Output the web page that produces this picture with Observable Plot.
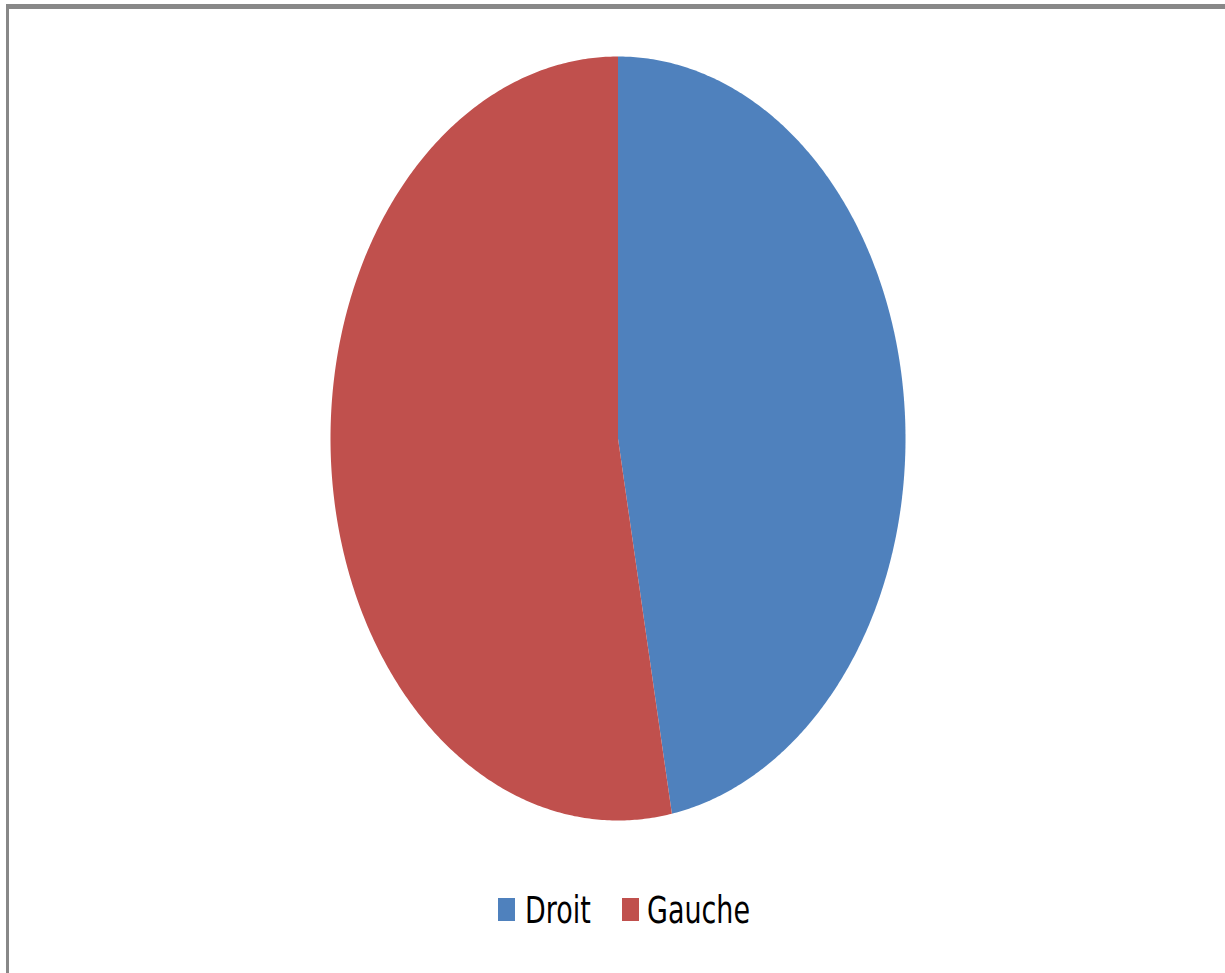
<!DOCTYPE html>
<html><head><meta charset="utf-8">
<script src="https://cdn.jsdelivr.net/npm/d3@7"></script>
<script src="https://cdn.jsdelivr.net/npm/@observablehq/plot@0.6"></script>
<style>
html,body{margin:0;padding:0;background:#fff;width:1225px;height:973px;overflow:hidden;}
#frame{position:absolute;left:6px;top:4px;width:1225px;height:980px;border-left:3px solid #888;border-top:5px solid #888;box-sizing:border-box;}
#chart{position:absolute;left:0;top:0;}
.sw{position:absolute;top:898px;width:17px;height:23px;}
.lt{position:absolute;top:888px;font-family:"DejaVu Sans Condensed","DejaVu Sans",sans-serif;font-size:37px;color:#000;transform:scaleX(0.81);transform-origin:0 0;white-space:nowrap;line-height:45px;}
</style></head>
<body>
<div id="frame"></div>
<div id="chart"></div>
<div id="legend"></div>
<script>
const categories = ["Droit", "Gauche"];
const values = [47, 53];
const colors = ["#4F81BD", "#C0504D"];

const total = d3.sum(values);
const rows = [];
let acc = 0;
categories.forEach((c, i) => {
  const a0 = acc / total * 2 * Math.PI;
  acc += values[i];
  const a1 = acc / total * 2 * Math.PI;
  const n = Math.max(4, Math.ceil((a1 - a0) / (Math.PI / 360)));
  rows.push({cat: c, x: 0, y: 0});
  for (let k = 0; k <= n; k++) {
    const a = a0 + (a1 - a0) * k / n;
    rows.push({cat: c, x: Math.sin(a), y: Math.cos(a)});
  }
  rows.push({cat: c, x: 0, y: 0});
});

const plot = Plot.plot({
  width: 1225,
  height: 870,
  marginLeft: 330,
  marginRight: 320,
  marginTop: 56,
  marginBottom: 50,
  x: {domain: [-1, 1], axis: null},
  y: {domain: [-1, 1], axis: null},
  color: {domain: categories, range: colors},
  style: {background: "transparent"},
  marks: [
    Plot.line(rows, {x: "x", y: "y", z: "cat", fill: "cat", stroke: "none", curve: "linear"})
  ]
});
document.getElementById("chart").appendChild(plot);

const leg = document.getElementById("legend");
const swX = [498, 622], txX = [525, 647];
categories.forEach((c, i) => {
  const sw = document.createElement("div");
  sw.className = "sw";
  sw.style.left = swX[i] + "px";
  sw.style.background = colors[i];
  const t = document.createElement("div");
  t.className = "lt";
  t.style.left = txX[i] + "px";
  t.textContent = c;
  leg.appendChild(sw); leg.appendChild(t);
});
</script>
</body></html>
